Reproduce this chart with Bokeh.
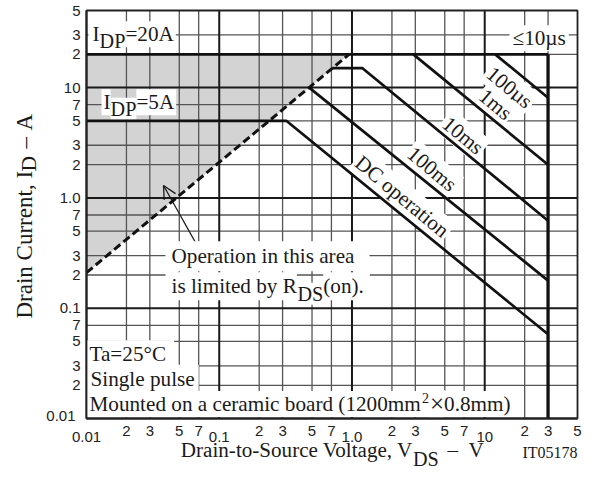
import math
from bokeh.plotting import figure
from bokeh.models import (Label, LabelSet, ColumnDataSource, Arrow, OpenHead, Range1d)
from bokeh.embed import file_html
from bokeh.resources import INLINE
from bokeh.core.properties import value

# ---------------- data ----------------
x_min, x_max = 0.01, 50
y_min, y_max = 0.01, 50

x_tick_vals = [0.01, 0.02, 0.03, 0.05, 0.07, 0.1, 0.2, 0.3, 0.5, 0.7,
               1.0, 2, 3, 5, 7, 10, 20, 30, 50]
x_tick_text = ["0.01", "2", "3", "5", "7", "0.1", "2", "3", "5", "7",
               "1.0", "2", "3", "5", "7", "10", "2", "3", "5"]
y_tick_vals = [0.01, 0.02, 0.03, 0.05, 0.07, 0.1, 0.2, 0.3, 0.5, 0.7,
               1.0, 2, 3, 5, 7, 10, 20, 30, 50]
y_tick_text = ["0.01", "2", "3", "5", "7", "0.1", "2", "3", "5", "7",
               "1.0", "2", "3", "5", "7", "10", "2", "3", "5"]
decades = [0.01, 0.1, 1.0, 10]

idp20_v = [0.01, 30];        idp20_i = [20, 20]
vmax_v = [30, 30];           vmax_i = [20, 0.01]
dc_v = [0.01, 0.32, 30];     dc_i = [5, 5, 0.058]
us100_v = [12, 30];          us100_i = [20, 8.1]
ms1_v = [2.9, 30];           ms1_i = [20, 2.0]
ms10_v = [0.71, 1.2, 30];    ms10_i = [15, 15, 0.62]
ms100_v = [0.476, 30];       ms100_i = [10, 0.178]
rds_v = [0.01, 0.95];        rds_i = [0.21, 20]

# ---------------- layout helpers ----------------
W, H = 596, 484
LX, TY, FW, FH = 86, 10, 491, 408          # chart box in page pixels
SPX = math.log10(x_max) - math.log10(x_min)
SPY = math.log10(y_max) - math.log10(y_min)


def fx(px):
    return 10 ** (math.log10(x_min) + (px - LX) / FW * SPX)


def fy(py):
    return 10 ** (math.log10(y_max) - (py - TY) / FH * SPY)


TXT = "#1a1a1a"
SERIF = "Liberation Serif"
SANS = "Liberation Sans"
FS = 21.2      # main serif size
FSS = 20.2     # subscript size
MID = 0.3375   # baseline -> middle offset (em)

TW = {' ': 250, '(': 333, ')': 333, '.': 250, ',': 250, '-': 333, '=': 564,
      '°': 400, '×': 564, '²': 300, '≤': 549, 'µ': 500, '–': 500,
      'A': 722, 'C': 667, 'D': 722, 'I': 333, 'M': 889, 'O': 722, 'P': 556,
      'R': 667, 'S': 556, 'T': 611, 'V': 722,
      'a': 444, 'b': 500, 'c': 444, 'd': 500, 'e': 444, 'g': 500, 'h': 500,
      'i': 278, 'l': 278, 'm': 778, 'n': 500, 'o': 500, 'p': 500, 'r': 333,
      's': 389, 't': 278, 'u': 500, 'y': 500}


def tw(s, size):
    return sum(TW.get(c, 500) for c in s) * size / 1000.0


p = figure(width=W, height=H, x_axis_type="log", y_axis_type="log",
           x_range=Range1d(fx(0), fx(W)), y_range=Range1d(fy(H), fy(0)),
           x_axis_location=None, y_axis_location=None, title=None,
           toolbar_location=None, output_backend="svg",
           min_border_left=0, min_border_right=0,
           min_border_top=0, min_border_bottom=0,
           outline_line_color=None,
           background_fill_color="white", border_fill_color="white")
p.grid.visible = False


def set_pad(lab, l, r, t, b):
    try:
        lab.padding = dict(left=l, right=r, top=t, bottom=b)
        return l, r
    except Exception:
        lab.padding = max(l, r)
        return max(l, r), max(l, r)


def rich(base, parts, angle=0.0, bg=True):
    """parts: dicts with s, size, at (absolute start) or gap (after previous),
    dy, pad (l, r, t, b), align ('left' | 'right')."""
    cur = None
    for d in parts:
        s, size = d["s"], d["size"]
        dy = d.get("dy", 0)
        pad = d.get("pad", (0, 0, 0, 0))
        align = d.get("align", "left")
        pos = d["at"] if "at" in d else cur + (d.get("gap", 0) * (1 if angle == 0.0 else -1))
        lab = Label(text=s, text_font=SERIF, text_font_size=f"{size}px",
                    text_color=TXT, text_align=align, text_baseline="middle",
                    angle=angle)
        pl = pr = 0
        if bg and d.get("bg", True):
            lab.background_fill_color = "white"
            pl, pr = set_pad(lab, *pad)
        w = tw(s, size)
        if angle == 0.0:
            if align == "left":
                lab.x = fx(pos - pl)
                cur = pos + w
            else:
                lab.x = fx(pos + pr)
                cur = pos
            lab.y = fy(base + dy - MID * size)
        else:
            lab.x = fx(base + dy - MID * size)
            lab.y = fy(pos + pl)
            cur = pos - w
        p.add_layout(lab)


# shaded R_DS(on) limited region
p.patch([rds_v[0], rds_v[0], rds_v[1]], [rds_i[0], rds_i[1], rds_i[1]],
        fill_color="#d3d3d3", line_alpha=0)

# grid lines
minor_x = [v for v in x_tick_vals if v not in decades and v < x_max]
minor_y = [v for v in y_tick_vals if v not in decades and v < y_max]
p.segment(x0=minor_x, x1=minor_x, y0=[y_min] * len(minor_x), y1=[y_max] * len(minor_x),
          line_color="#555555", line_width=1.3)
p.segment(x0=[x_min] * len(minor_y), x1=[x_max] * len(minor_y), y0=minor_y, y1=minor_y,
          line_color="#555555", line_width=1.3)
p.segment(x0=decades, x1=decades, y0=[y_min] * 4, y1=[y_max] * 4,
          line_color="#1a1a1a", line_width=2)
p.segment(x0=[x_min] * 4, x1=[x_max] * 4, y0=decades, y1=decades,
          line_color="#1a1a1a", line_width=2)

# curves
LC = "#111111"
for xs, ys in [(idp20_v, idp20_i), (dc_v, dc_i), (us100_v, us100_i),
               (ms1_v, ms1_i), (ms10_v, ms10_i), (ms100_v, ms100_i)]:
    p.line(xs, ys, line_color=LC, line_width=2.7, level="overlay")
p.line(vmax_v, vmax_i, line_color=LC, line_width=3.3, level="overlay")
p.line(rds_v, rds_i, line_color=LC, line_width=3, line_dash="8 4", level="overlay")
# chart box outline
p.quad(left=[x_min], right=[x_max], bottom=[y_min], top=[y_max],
       fill_alpha=0, line_color="#222222", line_width=1.8, level="overlay")

# tick labels
xt_y = [fy(441) if v in decades else fy(435) for v in x_tick_vals]
p.add_layout(LabelSet(x="x", y="y", text="text",
                      source=ColumnDataSource(dict(x=x_tick_vals, y=xt_y, text=x_tick_text)),
                      text_align="center", text_baseline="alphabetic",
                      text_font=value(SANS), text_font_size="15px", text_color="#222222"))
yt_x = [fx(75) if v == 0.01 else fx(80) for v in y_tick_vals]
yt_y = [fy(415) if v == 0.01 else v for v in y_tick_vals]
p.add_layout(LabelSet(x="x", y="y", text="text",
                      source=ColumnDataSource(dict(x=yt_x, y=yt_y, text=y_tick_text)),
                      text_align="right", text_baseline="middle",
                      text_font=value(SANS), text_font_size="15px", text_color="#222222"))

# axis titles
rich(457, [dict(s="Drain-to-Source Voltage, V", size=21.1, at=412.5, align="right"),
           dict(s="DS", size=FSS, at=412.5, dy=8),
           dict(s="–", size=FS, at=447), dict(s="V", size=FS, at=468)], bg=False)
rich(32, [dict(s="Drain Current, I", size=23, at=318), dict(s="D", size=21.5, at=171, dy=4),
          dict(s="–", size=23, at=148), dict(s="A", size=23, at=130)],
     angle=math.pi / 2, bg=False)
rich(457, [dict(s="IT05178", size=16, at=522)], bg=False)

# limit labels
rich(41, [dict(s="I", size=FS, at=92, pad=(4, 0, 1, 1)),
          dict(s="DP", size=FSS, gap=0, dy=6),
          dict(s="=20A", size=FS, gap=0, pad=(0, 2, 1, 1))])
rich(109, [dict(s="I", size=FS, at=103, pad=(2, 0, 1, 1)),
           dict(s="DP", size=FSS, gap=0, dy=6),
           dict(s="=5A", size=FS, gap=0, pad=(0, 2, 1, 1))])
rich(45, [dict(s="≤10µs", size=FS, at=512, pad=(3, 3, 1, 1))])

# R_DS(on) note
p.add_layout(Arrow(end=OpenHead(size=13, line_width=1.3, line_color=TXT),
                   x_start=fx(195), y_start=fy(242), x_end=fx(163), y_end=fy(185),
                   line_width=1.3, line_color=TXT))
rich(263, [dict(s="Operation in this area", size=FS, at=171, pad=(6, 15, 3, 3))])
rich(293, [dict(s="is limited by R", size=FS, at=171, pad=(6, 0, 2, 2)),
           dict(s="DS", size=FSS, gap=0.5, dy=7),
           dict(s="(on).", size=FS, gap=0, pad=(0, 6, 2, 2))])

# conditions
rich(361, [dict(s="Ta=25°C", size=FS, at=89, pad=(3, 8, 2, 2))])
rich(385.5, [dict(s="Single pulse", size=FS, at=90, pad=(4, 4, 2, 2))])
rich(410.7, [dict(s="Mounted on a ceramic board (1200mm", size=FS, at=89, pad=(3, 1, 1, 1)),
             dict(s="2", size=14, gap=1, dy=-8),
             dict(s="×", size=25, gap=1, dy=1, pad=(1, 1, 0, 0)),
             dict(s="0.8mm)", size=FS, gap=0, pad=(0, 3, 1, 1))])

# pulse-width labels along the lines
ANG = math.atan(FH / FW)
for txt, cx, cy in [("100µs", 509, 87), ("1ms", 495, 104), ("10ms", 462.5, 135),
                    ("100ms", 431.5, 168.5), ("DC operation", 401.5, 196)]:
    p.add_layout(Label(x=fx(cx), y=fy(cy), text=txt, text_font=SERIF,
                       text_font_size=f"{FS}px", text_color=TXT, angle=-ANG,
                       text_align="center", text_baseline="middle",
                       background_fill_color="white", padding=2))

open("out.html", "w").write(file_html(p, INLINE))
